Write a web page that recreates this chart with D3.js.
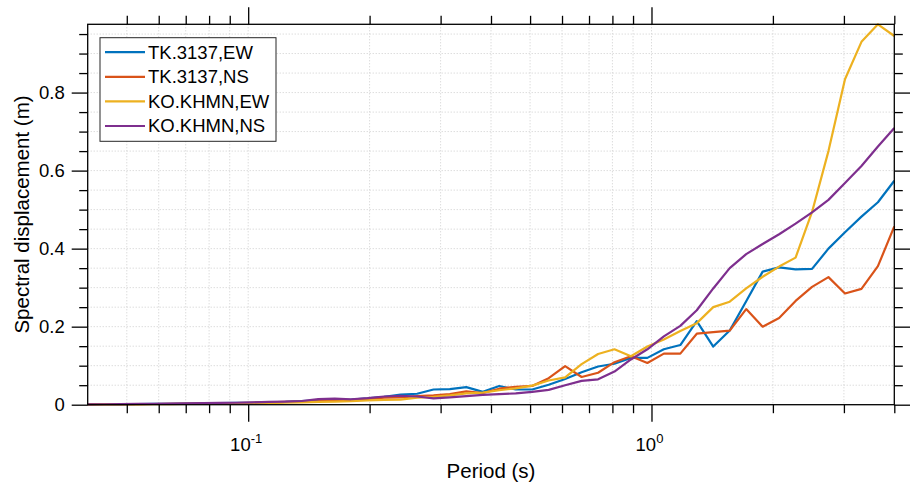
<!DOCTYPE html>
<html>
<head>
<meta charset="utf-8">
<script src="https://cdn.jsdelivr.net/npm/d3@7"></script>
<style>
body { margin: 0; background: #fff; }
text { font-family: "Liberation Sans", Arial, sans-serif; fill: #000; }
</style>
</head>
<body>
<div id="chart"></div>
<script>
// periods (s), log spaced from 0.04 to 4
const periods = [
  0.0400, 0.04394, 0.04828, 0.05304, 0.05828, 0.06402, 0.07034, 0.07728, 0.08490, 0.09320,
  0.1024, 0.1125, 0.1236, 0.1358, 0.1492, 0.1639, 0.1800, 0.1978, 0.2173, 0.2387,
  0.2623, 0.2881, 0.3162, 0.3474, 0.3817, 0.4193, 0.4607, 0.5061, 0.5560, 0.6108,
  0.6710, 0.7372, 0.8094, 0.8892, 0.9768, 1.0731, 1.1789, 1.2951, 1.4228, 1.5631,
  1.7172, 1.8864, 2.0724, 2.2767, 2.5011, 2.7466, 3.0185, 3.3161, 3.6430, 4.0000
];

// spectral displacement (m)
const tkEW = [
  0.001, 0.0012, 0.0015, 0.0018, 0.002, 0.0025, 0.003, 0.0035, 0.004, 0.0045,
  0.005, 0.006, 0.007, 0.009, 0.011, 0.012, 0.013, 0.016, 0.020, 0.026,
  0.028, 0.039, 0.040, 0.045, 0.033, 0.048, 0.039, 0.039, 0.051, 0.066,
  0.083, 0.098, 0.105, 0.120, 0.120, 0.142, 0.153, 0.214, 0.149, 0.190,
  0.265, 0.341, 0.352, 0.347, 0.348, 0.400, 0.442, 0.482, 0.519, 0.574
];
const tkNS = [
  0.001, 0.0012, 0.0014, 0.0016, 0.0018, 0.002, 0.0025, 0.003, 0.0035, 0.004,
  0.005, 0.006, 0.007, 0.008, 0.009, 0.011, 0.012, 0.015, 0.018, 0.019,
  0.022, 0.024, 0.027, 0.034, 0.030, 0.041, 0.046, 0.048, 0.068, 0.099,
  0.071, 0.082, 0.109, 0.124, 0.107, 0.131, 0.131, 0.182, 0.186, 0.190,
  0.245, 0.200, 0.222, 0.266, 0.302, 0.327, 0.285, 0.297, 0.355, 0.457
];
const khmnEW = [
  0.0005, 0.0006, 0.0008, 0.001, 0.0012, 0.0015, 0.002, 0.0022, 0.0025, 0.003,
  0.0035, 0.004, 0.005, 0.006, 0.007, 0.008, 0.009, 0.011, 0.012, 0.013,
  0.018, 0.020, 0.024, 0.029, 0.031, 0.037, 0.042, 0.049, 0.062, 0.070,
  0.104, 0.130, 0.142, 0.124, 0.149, 0.167, 0.189, 0.209, 0.250, 0.264,
  0.298, 0.328, 0.354, 0.377, 0.494, 0.650, 0.834, 0.930, 0.975, 0.945
];
const khmnNS = [
  0.001, 0.0012, 0.0015, 0.002, 0.0025, 0.003, 0.0035, 0.004, 0.0045, 0.005,
  0.006, 0.007, 0.008, 0.0095, 0.0145, 0.0155, 0.014, 0.017, 0.021, 0.023,
  0.021, 0.016, 0.019, 0.022, 0.025, 0.027, 0.029, 0.033, 0.038, 0.050,
  0.061, 0.065, 0.085, 0.116, 0.142, 0.175, 0.202, 0.242, 0.298, 0.350,
  0.386, 0.412, 0.437, 0.464, 0.493, 0.525, 0.568, 0.612, 0.662, 0.709
];

const names = ['TK.3137,EW', 'TK.3137,NS', 'KO.KHMN,EW', 'KO.KHMN,NS'];
const colors = ['#0072BD', '#D95319', '#EDB120', '#7E2F8E'];
const series = [tkEW, tkNS, khmnEW, khmnNS];

const xMajorTicks = [0.1, 1];
const xMinorTicks = [0.05, 0.06, 0.07, 0.08, 0.09, 0.2, 0.3, 0.4, 0.5, 0.6, 0.7, 0.8, 0.9, 2, 3, 4];
const xTickExp = ['-1', '0'];
const yMajorTicks = [0, 0.2, 0.4, 0.6, 0.8];
const yMinorTicks = [0.05, 0.1, 0.15, 0.25, 0.3, 0.35, 0.45, 0.5, 0.55, 0.65, 0.7, 0.75, 0.85, 0.9, 0.95];

const width = 910, height = 489;
const pLeft = 87.7, pRight = 894.3, pTop = 24.3, pBottom = 404.7;

const svg = d3.select('#chart')
  .append('svg')
  .attr('width', width)
  .attr('height', height);

const x = d3.scaleLog()
  .domain([periods[0], periods[periods.length - 1]])
  .range([pLeft, pRight]);

const y = d3.scaleLinear()
  .domain([0, d3.max(series, s => d3.max(s))])
  .range([pBottom, pTop]);

// grid (dotted, major and minor)
const grid = svg.append('g').attr('class', 'grid')
  .attr('stroke', '#cdcdcd')
  .attr('stroke-width', 1)
  .attr('stroke-dasharray', '1,2');

grid.selectAll('line.gx')
  .data(xMajorTicks.concat(xMinorTicks).filter(d => d < 4))
  .enter().append('line')
  .attr('class', 'gx')
  .attr('x1', d => x(d)).attr('x2', d => x(d))
  .attr('y1', pTop).attr('y2', pBottom);

grid.selectAll('line.gy')
  .data(yMajorTicks.concat(yMinorTicks).filter(d => d > 0))
  .enter().append('line')
  .attr('class', 'gy')
  .attr('x1', pLeft).attr('x2', pRight)
  .attr('y1', d => y(d)).attr('y2', d => y(d));

// data lines
const line = d3.line()
  .x((d, i) => x(periods[i]))
  .y(d => y(d));

svg.append('g')
  .selectAll('path')
  .data(series)
  .enter().append('path')
  .attr('fill', 'none')
  .attr('stroke', (d, i) => colors[i])
  .attr('stroke-width', 2.2)
  .attr('stroke-linejoin', 'round')
  .attr('d', line);

// axes: ticks outward on all four sides
const styleAxis = g => {
  g.select('.domain').remove();
  g.selectAll('line').attr('stroke', '#000').attr('stroke-width', 1.3);
  g.selectAll('text').remove();
};

svg.append('g').attr('transform', `translate(0,${pBottom})`)
  .call(d3.axisBottom(x).tickValues(xMajorTicks).tickSize(17)).call(styleAxis);
svg.append('g').attr('transform', `translate(0,${pBottom})`)
  .call(d3.axisBottom(x).tickValues(xMinorTicks).tickSize(8.5)).call(styleAxis);
svg.append('g').attr('transform', `translate(0,${pTop})`)
  .call(d3.axisTop(x).tickValues(xMajorTicks).tickSize(17)).call(styleAxis);
svg.append('g').attr('transform', `translate(0,${pTop})`)
  .call(d3.axisTop(x).tickValues(xMinorTicks).tickSize(8.5)).call(styleAxis);

svg.append('g').attr('transform', `translate(${pLeft},0)`)
  .call(d3.axisLeft(y).tickValues(yMajorTicks).tickSize(16)).call(styleAxis);
svg.append('g').attr('transform', `translate(${pLeft},0)`)
  .call(d3.axisLeft(y).tickValues(yMinorTicks).tickSize(8.5)).call(styleAxis);
svg.append('g').attr('transform', `translate(${pRight},0)`)
  .call(d3.axisRight(y).tickValues(yMajorTicks).tickSize(16)).call(styleAxis);
svg.append('g').attr('transform', `translate(${pRight},0)`)
  .call(d3.axisRight(y).tickValues(yMinorTicks).tickSize(8.5)).call(styleAxis);

// box
svg.append('rect')
  .attr('x', pLeft).attr('y', pTop)
  .attr('width', pRight - pLeft).attr('height', pBottom - pTop)
  .attr('fill', 'none')
  .attr('stroke', '#000')
  .attr('stroke-width', 1.3);

// tick labels
svg.append('g').selectAll('text')
  .data(yMajorTicks)
  .enter().append('text')
  .attr('x', pLeft - 23)
  .attr('y', d => y(d))
  .attr('dy', '0.35em')
  .attr('text-anchor', 'end')
  .style('font-size', '18.5px')
  .text(d => d3.format('')(d));

const xl = svg.append('g').selectAll('text')
  .data(xMajorTicks)
  .enter().append('text')
  .attr('x', d => x(d) - 2)
  .attr('y', 451)
  .attr('text-anchor', 'middle')
  .style('font-size', '18.5px');
xl.append('tspan').text('10');
xl.append('tspan')
  .attr('dy', -8)
  .style('font-size', '13px')
  .text((d, i) => xTickExp[i]);

// axis labels
svg.append('text')
  .attr('x', (pLeft + pRight) / 2)
  .attr('y', 478)
  .attr('text-anchor', 'middle')
  .style('font-size', '20.5px')
  .text('Period (s)');

svg.append('text')
  .attr('transform', `translate(28.5,${(pTop + pBottom) / 2}) rotate(-90)`)
  .attr('text-anchor', 'middle')
  .style('font-size', '20.5px')
  .text('Spectral displacement (m)');

// legend
const legend = svg.append('g').attr('transform', 'translate(100,37.7)');
legend.append('rect')
  .attr('width', 176).attr('height', 103.6)
  .attr('fill', '#fff')
  .attr('stroke', '#262626')
  .attr('stroke-width', 1);

const item = legend.selectAll('g.item')
  .data(names)
  .enter().append('g')
  .attr('class', 'item')
  .attr('transform', (d, i) => `translate(0,${14.5 + i * 24.6})`);
item.append('line')
  .attr('x1', 5).attr('x2', 45)
  .attr('stroke', (d, i) => colors[i])
  .attr('stroke-width', 2.2);
item.append('text')
  .attr('x', 48)
  .attr('dy', '0.35em')
  .style('font-size', '18.5px')
  .text(d => d);
</script>
</body>
</html>
